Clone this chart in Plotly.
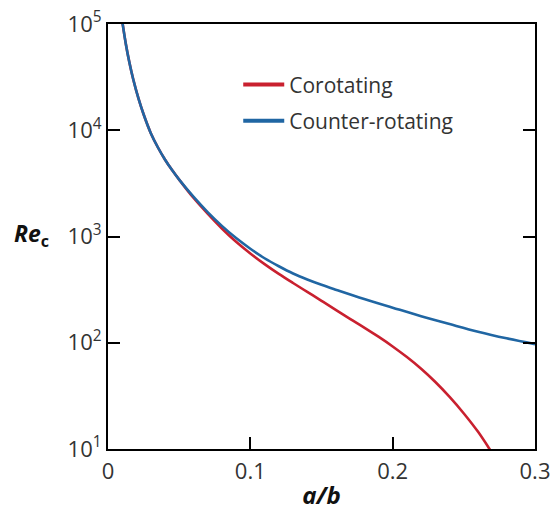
import plotly.graph_objects as go

# a/b values and critical Reynolds numbers
ab_co = [0.0092, 0.0103, 0.0125, 0.015, 0.0178, 0.0215, 0.025, 0.03, 0.035, 0.04,
         0.045, 0.05, 0.06, 0.07, 0.08, 0.09, 0.10, 0.11, 0.12, 0.13, 0.14, 0.15,
         0.16, 0.17, 0.18, 0.19, 0.20, 0.21, 0.22, 0.23, 0.24, 0.25, 0.26, 0.27]
re_co = [126000, 100000, 65300, 43650, 29850, 19720, 14130, 9440, 6918, 5310,
         4217, 3428, 2317, 1641, 1189, 891, 692, 550, 445, 365, 301, 248,
         204, 168, 139, 114, 92.3, 73.3, 56.9, 42.7, 30.9, 21.6, 14.5, 9.1]

ab_counter = [0.0092, 0.0103, 0.0125, 0.015, 0.0178, 0.0215, 0.025, 0.03, 0.035, 0.04,
              0.045, 0.05, 0.06, 0.07, 0.08, 0.09, 0.10, 0.11, 0.12, 0.13, 0.14, 0.15,
              0.16, 0.18, 0.20, 0.22, 0.24, 0.26, 0.28, 0.30]
re_counter = [126000, 100000, 65300, 43650, 29850, 19720, 14130, 9440, 6918, 5310,
              4217, 3428, 2371, 1698, 1259, 966, 767, 624, 525, 449, 394, 351,
              316, 258, 214, 178, 150, 127, 110, 97]

series_names = ["Corotating", "Counter-rotating"]

x_ticks = [0, 0.1, 0.2, 0.3]
x_ticktext = ["0", "0.1", "0.2", "0.3"]
y_ticks = [10, 100, 1000, 10000, 100000]
y_ticktext = ["10<sup>1</sup>", "10<sup>2</sup>", "10<sup>3</sup>", "10<sup>4</sup>", "10<sup>5</sup>"]

RED = "#c9202f"
BLUE = "#2066a3"
FONT = "Open Sans"

fig = go.Figure()
fig.add_trace(go.Scatter(x=ab_co, y=re_co, mode="lines", name=series_names[0],
                         showlegend=False,
                         line=dict(color=RED, width=2.6, shape="spline", smoothing=1.0)))
fig.add_trace(go.Scatter(x=ab_counter, y=re_counter, mode="lines", name=series_names[1],
                         showlegend=False,
                         line=dict(color=BLUE, width=2.6, shape="spline", smoothing=1.0)))
# legend entries (thicker swatches, as in the reference)
fig.add_trace(go.Scatter(x=[None], y=[None], mode="lines", name=series_names[0],
                         legendgroup="a", line=dict(color=RED, width=4)))
fig.add_trace(go.Scatter(x=[None], y=[None], mode="lines", name=series_names[1],
                         legendgroup="b", line=dict(color=BLUE, width=4)))

fig.update_layout(
    width=558, height=511,
    margin=dict(l=108, r=23, t=24, b=62),
    paper_bgcolor="white", plot_bgcolor="white",
    font=dict(family=FONT, color="#222222", size=20),
    showlegend=True,
    legend=dict(x=0.305, y=0.905, xanchor="left", yanchor="top",
                font=dict(size=21, family=FONT, color="#333333"),
                bgcolor="rgba(0,0,0,0)", itemwidth=41, tracegroupgap=6),
    annotations=[dict(text="<b><i>Re</i><sub>c</sub></b>", xref="paper", yref="paper",
                      x=-0.225, y=0.505, xanchor="left", yanchor="middle",
                      showarrow=False, font=dict(size=23, family=FONT, color="#111111"))],
)

fig.update_xaxes(range=[0, 0.3], tickvals=x_ticks, ticktext=x_ticktext,
                 ticks="inside", ticklen=12, tickwidth=2, tickcolor="black",
                 showline=True, linecolor="black", linewidth=2, mirror=True,
                 showgrid=False, zeroline=False, ticklabelstandoff=2, automargin=False,
                 tickfont=dict(size=22, color="#333333"),
                 title=dict(text="<b><i>a/b</i></b>", font=dict(size=24, color="#111111"), standoff=3))
fig.update_yaxes(type="log", range=[1, 5], tickvals=y_ticks, ticktext=y_ticktext,
                 ticks="inside", ticklen=12, tickwidth=2, tickcolor="black",
                 showline=True, linecolor="black", linewidth=2, mirror="ticks",
                 showgrid=False, zeroline=False, automargin=False,
                 tickfont=dict(size=22, color="#333333"))

fig.write_html("out.html")
